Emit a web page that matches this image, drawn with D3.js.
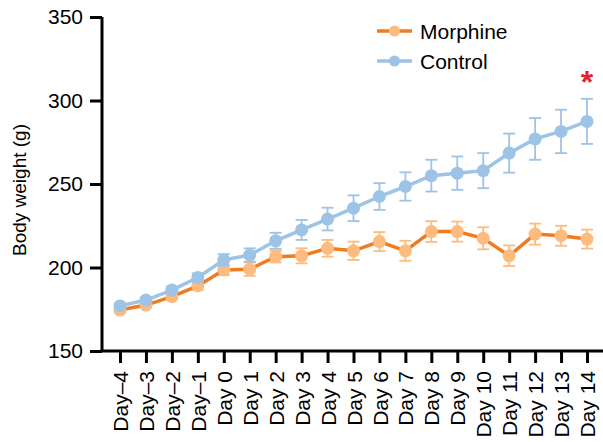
<!DOCTYPE html>
<html>
<head>
<meta charset="utf-8">
<script src="https://cdn.jsdelivr.net/npm/d3@7"></script>
<style>
  body { margin: 0; background: #fff; }
  svg { font-family: "Liberation Sans", Arial, sans-serif; }
</style>
</head>
<body>
<svg width="603" height="442"></svg>
<script>
var days = ["Day\u20134", "Day\u20133", "Day\u20132", "Day\u20131", "Day 0", "Day 1", "Day 2", "Day 3", "Day 4",
    "Day 5", "Day 6", "Day 7", "Day 8", "Day 9", "Day 10", "Day 11", "Day 12", "Day 13", "Day 14"];

var morphine = [174.5, 177.5, 182.5, 189, 198.5, 199, 206.5, 207, 211.5, 210, 215.5, 210, 221.5, 221.5, 217.5, 207, 220, 219, 217];
var morphineErr = [1.5, 1.5, 1.5, 2.5, 3, 4, 3.5, 4.5, 5, 5.5, 5.7, 6, 6.2, 6, 6.6, 6.2, 6.3, 6, 5.7];

var control = [177, 180.5, 186.5, 194, 204.5, 207.5, 216, 222.5, 229, 235.5, 242.5, 248.5, 255, 256.5, 258, 268.5, 277, 281.5, 287.5];
var controlErr = [1.5, 1.5, 2, 2.5, 3.5, 4, 4.8, 6, 6.8, 7.7, 8, 8.5, 9.5, 10, 10.5, 11.7, 12.5, 13, 13.5];

var yTicks = [150, 200, 250, 300, 350];

var svg = d3.select("svg");

var x = d3.scalePoint().domain(days).range([120, 587]);
var y = d3.scaleLinear().domain([150, 350]).range([351, 17]);

var series = [
    { name: "Morphine", values: morphine, err: morphineErr, line: "#f07c22", dot: "#fdbb7d" },
    { name: "Control", values: control, err: controlErr, line: "#9dc3e6", dot: "#9dc3e6" }
];

// axes
var yAxis = svg.append("g")
    .attr("transform", "translate(102,0)")
    .call(d3.axisLeft(y).tickValues(yTicks).tickSize(12).tickPadding(7));

var xAxis = svg.append("g")
    .attr("transform", "translate(0,351)")
    .call(d3.axisBottom(x).tickSize(12));

[yAxis, xAxis].forEach(function(a) {
    a.select(".domain").attr("stroke", "#000").attr("stroke-width", 3);
    a.selectAll(".tick line").attr("stroke", "#000").attr("stroke-width", 3);
    a.selectAll("text").attr("fill", "#000").style("font-size", "21px");
});
yAxis.select(".domain").attr("d", "M0,351V17");
xAxis.select(".domain").attr("d", "M100.5,0H603");

xAxis.selectAll(".tick text")
    .attr("transform", "rotate(-90)")
    .attr("text-anchor", "end")
    .attr("x", -20)
    .attr("y", 0)
    .attr("dy", "0.36em");

svg.append("text")
    .attr("transform", "translate(26,190) rotate(-90)")
    .attr("text-anchor", "middle")
    .style("font-size", "19px")
    .text("Body weight (g)");

// series
var line = d3.line()
    .x(function(d, i) { return x(days[i]); })
    .y(function(d) { return y(d); });

series.forEach(function(s) {
    var g = svg.append("g");
    var bars = g.selectAll(".err")
        .data(s.values)
        .enter().append("g");
    bars.append("line")
        .attr("x1", function(d, i) { return x(days[i]); })
        .attr("x2", function(d, i) { return x(days[i]); })
        .attr("y1", function(d, i) { return y(d + s.err[i]); })
        .attr("y2", function(d, i) { return y(d - s.err[i]); });
    bars.append("line")
        .attr("x1", function(d, i) { return x(days[i]) - 6; })
        .attr("x2", function(d, i) { return x(days[i]) + 6; })
        .attr("y1", function(d, i) { return y(d + s.err[i]); })
        .attr("y2", function(d, i) { return y(d + s.err[i]); });
    bars.append("line")
        .attr("x1", function(d, i) { return x(days[i]) - 6; })
        .attr("x2", function(d, i) { return x(days[i]) + 6; })
        .attr("y1", function(d, i) { return y(d - s.err[i]); })
        .attr("y2", function(d, i) { return y(d - s.err[i]); });
    bars.selectAll("line").attr("stroke", s.dot).attr("stroke-width", 1.8);

    g.append("path")
        .attr("d", line(s.values))
        .attr("fill", "none")
        .attr("stroke", s.line)
        .attr("stroke-width", 3.5);

    g.selectAll("circle")
        .data(s.values)
        .enter().append("circle")
        .attr("cx", function(d, i) { return x(days[i]); })
        .attr("cy", function(d) { return y(d); })
        .attr("r", 6.5)
        .attr("fill", s.dot);
});

// legend
var legend = svg.append("g")
    .selectAll("g")
    .data(series)
    .enter().append("g")
    .attr("transform", function(d, i) { return "translate(377," + (31 + i * 30) + ")"; });
legend.append("line")
    .attr("x1", 0).attr("x2", 35)
    .attr("stroke", function(d) { return d.line; })
    .attr("stroke-width", 3.5);
legend.append("circle")
    .attr("cx", 17.5).attr("r", 5.5)
    .attr("fill", function(d) { return d.dot; });
legend.append("text")
    .attr("x", 43)
    .attr("dy", "0.36em")
    .style("font-size", "21px")
    .text(function(d) { return d.name; });

// significance marker
svg.append("text")
    .attr("x", x(days[days.length - 1]))
    .attr("y", 93)
    .attr("text-anchor", "middle")
    .attr("fill", "#e8202a")
    .style("font-size", "32px")
    .style("font-weight", "bold")
    .text("*");
</script>
</body>
</html>
